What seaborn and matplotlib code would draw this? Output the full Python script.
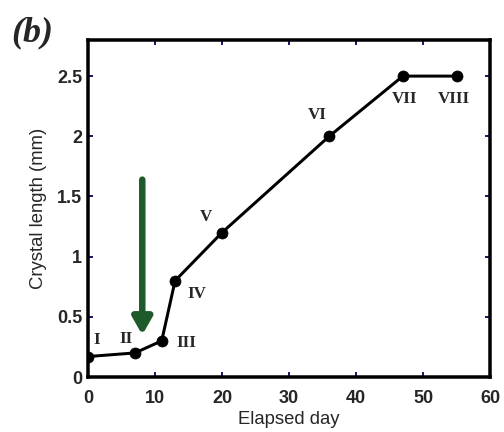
import matplotlib
matplotlib.use("Agg")
import matplotlib.pyplot as plt
import seaborn as sns
import pandas as pd

days = [0, 7, 11, 13, 20, 36, 47, 55]
lengths = [0.17, 0.20, 0.30, 0.80, 1.20, 2.00, 2.50, 2.50]
stages = ["I", "II", "III", "IV", "V", "VI", "VII", "VIII"]
x_ticks = [0, 10, 20, 30, 40, 50, 60]
y_ticks = [0, 0.5, 1, 1.5, 2, 2.5]
y_tick_labels = ["0", "0.5", "1", "1.5", "2", "2.5"]

sns.set_style("white")
plt.rcParams["font.family"] = ["Liberation Sans", "DejaVu Sans"]

df = pd.DataFrame({"day": days, "length": lengths})

fig = plt.figure(figsize=(7, 6), dpi=72)
ax = fig.add_axes([88/504, 1-377/432, (490-88)/504, (377-40)/432])
sns.lineplot(data=df, x="day", y="length", ax=ax, color="black", lw=3,
             marker="o", markersize=11, markeredgecolor="black", zorder=3)

ax.set_xlim(0, 60)
ax.set_ylim(0, 2.8)
ax.set_xticks(x_ticks)
ax.set_xticklabels([str(t) for t in x_ticks], fontweight="bold", fontsize=18)
ax.set_yticks(y_ticks)
ax.set_yticklabels(y_tick_labels, fontweight="bold", fontsize=18)
ax.tick_params(direction="in", length=5, width=2, color="#1a1a6e",
               top=True, right=True, left=True, bottom=True)
ax.tick_params(axis="x", pad=13)
ax.tick_params(axis="y", pad=6)
ax.set_xlabel("Elapsed day", fontsize=18.5, labelpad=4)
ax.set_ylabel("Crystal length (mm)", fontsize=18.5, labelpad=10)
for s in ax.spines.values():
    s.set_linewidth(3.5)
    s.set_color("black")

offsets = [(9, 17), (-9, 14), (25, -2), (22, -13), (-16, 16), (-12, 21), (2, -23), (-3, -23)]
for x, y, s, off in zip(days, lengths, stages, offsets):
    ax.annotate(s, (x, y), xytext=off, textcoords="offset points",
                ha="center", va="center", fontsize=17, fontweight="bold",
                family="Liberation Serif")

ax.annotate("", xy=(8.1, 0.35), xytext=(8.1, 1.64),
            arrowprops=dict(arrowstyle="-|>,head_width=0.8,head_length=1.4",
                            color="#1e5b2a", lw=6.5, shrinkA=0, shrinkB=0))

fig.text(11/504, 1-33/432, "(b)", fontsize=36, fontweight="bold", style="italic",
         family="Liberation Serif", va="center", ha="left")

fig.savefig("out.png", dpi=72, facecolor="white")
